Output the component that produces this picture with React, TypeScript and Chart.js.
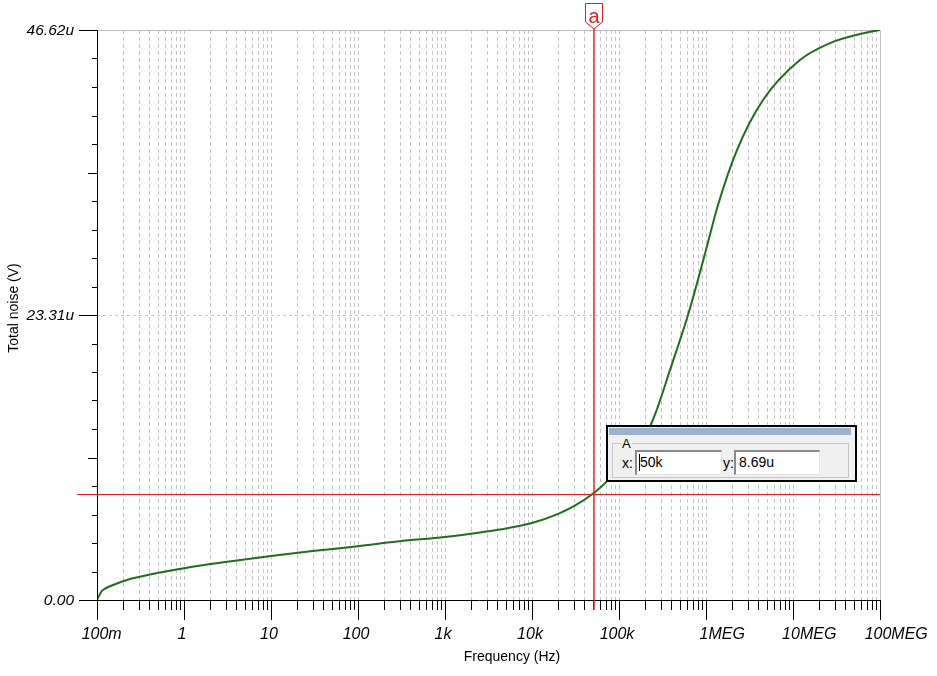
import React, { useEffect, useRef } from 'react';
import { Chart, registerables } from 'chart.js';

Chart.register(...registerables);

// ---- data (frequency in Hz, total noise in microvolts) ----
const freqHz = [0.1, 0.11, 0.117, 0.153, 0.221, 0.49, 1, 3, 10, 30, 100, 300, 1000, 3000, 5000, 10000, 20000, 30000, 50000, 74800, 100000, 227000, 273000, 385000, 621000, 1e6, 1.374e6, 2.27e6, 4.52e6, 1.2e7, 2.66e7, 5.89e7, 1e8];
const noiseMicroV = [0, 0.6, 0.82, 1.23, 1.64, 2.2, 2.6, 3.1, 3.6, 4.0, 4.4, 4.8, 5.15, 5.6, 5.85, 6.3, 7.05, 7.65, 8.69, 9.81, 10.96, 14.2, 15.6, 18.8, 23.31, 28.63, 32.31, 36.8, 40.89, 44.16, 45.55, 46.29, 46.62];

const xTickValues = [0.1, 1, 10, 100, 1000, 10000, 100000, 1e6, 1e7, 1e8];
const xTickLabels = ['100m', '1', '10', '100', '1k', '10k', '100k', '1MEG', '10MEG', '100MEG'];
const yTickValues = [0, 23.31, 46.62];
const yTickLabels = ['0.00', '23.31u', '46.62u'];
const yMinorCount = 20; // minor ticks between 0 and max

const xTitle = 'Frequency (Hz)';
const yTitle = 'Total noise (V)';

const cursorName = 'a';
const cursorGroup = 'A';
const cursorX = 50000;
const cursorY = 8.69;
const cursorXText = '50k';
const cursorYText = '8.69u';

const FONT = '"Liberation Sans", Arial, sans-serif';
const RED = '#e02020';

const decorPlugin = {
  id: 'tinaDecor',
  beforeDatasetsDraw(chart: any) {
    const { ctx, chartArea: a, scales } = chart;
    const x = scales.x;
    const y = scales.y;
    ctx.save();
    ctx.strokeStyle = '#c6c6c6';
    ctx.lineWidth = 1;
    ctx.setLineDash([4, 3]);
    const xmin = xTickValues[0];
    const xmax = xTickValues[xTickValues.length - 1];
    for (let e = -1; e < 8; e++) {
      for (let m = 1; m < 10; m++) {
        const v = m * Math.pow(10, e);
        if (v <= xmin * 1.0001 || v >= xmax * 0.9999) continue;
        const px = Math.round(x.getPixelForValue(v)) + 0.5;
        ctx.beginPath();
        ctx.moveTo(px, a.top);
        ctx.lineTo(px, a.bottom);
        ctx.stroke();
      }
    }
    ctx.setLineDash([3, 3]);
    const py = Math.round(y.getPixelForValue(yTickValues[1])) + 0.5;
    ctx.beginPath();
    ctx.moveTo(a.left, py);
    ctx.lineTo(a.right, py);
    ctx.stroke();
    ctx.setLineDash([]);
    ctx.strokeStyle = '#bdbdbd';
    ctx.beginPath();
    ctx.moveTo(a.left, Math.round(a.top) + 0.5);
    ctx.lineTo(Math.round(a.right) + 0.5, Math.round(a.top) + 0.5);
    ctx.lineTo(Math.round(a.right) + 0.5, a.bottom);
    ctx.stroke();
    ctx.restore();
  },
  afterDatasetsDraw(chart: any) {
    const { ctx, chartArea: a, scales } = chart;
    const x = scales.x;
    const y = scales.y;
    ctx.save();
    ctx.setLineDash([]);
    ctx.lineWidth = 1;
    const L = Math.round(a.left) + 0.5;
    const B = Math.round(a.bottom) + 0.5;

    // axes
    ctx.strokeStyle = '#000';
    ctx.beginPath();
    ctx.moveTo(L, a.top);
    ctx.lineTo(L, a.bottom + 20);
    ctx.moveTo(a.left - 18, B);
    ctx.lineTo(a.right, B);
    ctx.stroke();

    // y ticks
    const ymax = yTickValues[yTickValues.length - 1];
    for (let i = 0; i <= yMinorCount; i++) {
      const v = (ymax * i) / yMinorCount;
      const py = Math.round(y.getPixelForValue(v)) + 0.5;
      let len = 5;
      if (i % 10 === 0) len = 18;
      else if (i % 5 === 0) len = 9;
      ctx.beginPath();
      ctx.moveTo(a.left - len, py);
      ctx.lineTo(a.left, py);
      ctx.stroke();
    }
    // x ticks
    for (let e = -1; e < 8; e++) {
      for (let m = 1; m < 10; m++) {
        const v = m * Math.pow(10, e);
        const px = Math.round(x.getPixelForValue(v)) + 0.5;
        const len = m === 1 ? 20 : 10;
        ctx.beginPath();
        ctx.moveTo(px, a.bottom);
        ctx.lineTo(px, a.bottom + len);
        ctx.stroke();
      }
    }
    {
      const px = Math.round(x.getPixelForValue(1e8)) + 0.5;
      ctx.beginPath();
      ctx.moveTo(px, a.bottom);
      ctx.lineTo(px, a.bottom + 20);
      ctx.stroke();
    }

    // tick labels
    ctx.fillStyle = '#000';
    ctx.font = `italic 16px ${FONT}`;
    ctx.textBaseline = 'alphabetic';
    xTickValues.forEach((v, i) => {
      const lbl = xTickLabels[i];
      const px = x.getPixelForValue(v);
      const m = lbl.match(/^([0-9.]+)(MEG|m)$/);
      if (m) {
        const w = ctx.measureText(m[1]).width;
        ctx.textAlign = 'left';
        ctx.fillText(lbl, px - w / 2 - 2, 639);
      } else {
        ctx.textAlign = 'center';
        ctx.fillText(lbl, px - 2, 639);
      }
    });
    ctx.font = `italic 15.5px ${FONT}`;
    ctx.textAlign = 'right';
    ctx.textBaseline = 'middle';
    yTickValues.forEach((v, i) => {
      const py = y.getPixelForValue(v);
      ctx.fillText(yTickLabels[i], a.left - 23, py + 1);
    });

    // axis titles
    ctx.font = `14px ${FONT}`;
    ctx.textAlign = 'center';
    ctx.textBaseline = 'alphabetic';
    ctx.fillText(xTitle, 512, 661);
    ctx.save();
    ctx.translate(18, 308);
    ctx.rotate(-Math.PI / 2);
    ctx.fillText(yTitle, 0, 0);
    ctx.restore();

    // cursor lines (drawn last)
    const cxp = Math.round(x.getPixelForValue(cursorX));
    const cy = Math.round(y.getPixelForValue(cursorY)) + 0.5;
    ctx.strokeStyle = RED;
    ctx.lineWidth = 1;
    ctx.beginPath();
    ctx.moveTo(a.left - 20, cy);
    ctx.lineTo(a.right, cy);
    ctx.stroke();
    ctx.lineWidth = 1.4;
    ctx.beginPath();
    ctx.moveTo(cxp + 1, a.top - 2);
    ctx.lineTo(cxp + 1, a.bottom + 10);
    ctx.stroke();

    // cursor marker
    const mx = cxp + 1;
    ctx.fillStyle = '#fff';
    ctx.strokeStyle = RED;
    ctx.lineWidth = 1;
    ctx.beginPath();
    ctx.moveTo(mx - 8.5, 3.5);
    ctx.lineTo(mx + 8.5, 3.5);
    ctx.lineTo(mx + 8.5, 22);
    ctx.lineTo(mx, 29);
    ctx.lineTo(mx - 8.5, 22);
    ctx.closePath();
    ctx.fill();
    ctx.stroke();
    ctx.fillStyle = RED;
    ctx.font = `20px ${FONT}`;
    ctx.textAlign = 'center';
    ctx.textBaseline = 'alphabetic';
    ctx.fillText(cursorName, mx, 23);
    ctx.restore();
  },
};

function CursorBox() {
  const txt: React.CSSProperties = { position: 'absolute', fontFamily: FONT, fontSize: 14, lineHeight: '14px', color: '#000' };
  const input: React.CSSProperties = {
    position: 'absolute',
    top: 23,
    height: 25,
    boxSizing: 'border-box',
    background: '#fff',
    borderTop: '2px solid #8a8a8a',
    borderLeft: '2px solid #8a8a8a',
    borderBottom: '1px solid #e4e4e4',
    borderRight: '1px solid #e4e4e4',
    fontFamily: FONT,
    fontSize: 14,
    lineHeight: '21px',
    paddingLeft: 3,
    color: '#000',
  };
  return (
    <div
      style={{
        position: 'absolute',
        left: 606,
        top: 425,
        width: 251,
        height: 57,
        boxSizing: 'border-box',
        border: '2px solid #000',
        background: '#f0f0f0',
      }}
    >
      <div style={{ position: 'absolute', left: 1, top: 1, width: 242, height: 7, background: '#9cb1cc' }} />
      <div
        style={{
          position: 'absolute',
          left: 4,
          top: 16,
          width: 237,
          height: 35,
          boxSizing: 'border-box',
          border: '1px solid #c4c4c4',
        }}
      />
      <div style={{ ...txt, left: 13, top: 10, fontSize: 13, lineHeight: '13px', background: '#f0f0f0', padding: '0 1px' }}>{cursorGroup}</div>
      <div style={{ ...txt, left: 14, top: 29 }}>x:</div>
      <div style={{ ...input, left: 27, width: 87 }}>
        {cursorXText}
        <div style={{ position: 'absolute', left: 2, top: 2, width: 1, height: 17, background: '#000' }} />
      </div>
      <div style={{ ...txt, left: 115, top: 29 }}>y:</div>
      <div style={{ ...input, left: 126, width: 86 }}>{cursorYText}</div>
    </div>
  );
}

export default function App() {
  const ref = useRef<HTMLCanvasElement | null>(null);
  useEffect(() => {
    if (!ref.current) return;
    const chart = new Chart(ref.current, {
      type: 'scatter',
      data: {
        datasets: [
          {
            label: yTitle,
            data: freqHz.map((f, i) => ({ x: f, y: noiseMicroV[i] })),
            showLine: true,
            borderColor: '#1e6e1e',
            backgroundColor: '#1e6e1e',
            borderWidth: 2,
            pointRadius: 0,
            cubicInterpolationMode: 'monotone',
          } as any,
        ],
      },
      options: {
        animation: false,
        responsive: false,
        devicePixelRatio: 1,
        layout: { padding: { left: 97, top: 30, right: 57, bottom: 76 } },
        plugins: { legend: { display: false }, tooltip: { enabled: false } },
        scales: {
          x: { type: 'logarithmic', min: xTickValues[0], max: xTickValues[xTickValues.length - 1], display: false },
          y: { type: 'linear', min: 0, max: yTickValues[yTickValues.length - 1], display: false },
        },
      },
      plugins: [decorPlugin],
    });
    return () => chart.destroy();
  }, []);
  return (
    <div style={{ position: 'absolute', left: 0, top: 0, width: 937, height: 676, background: '#fff' }}>
      <canvas ref={ref} width={937} height={676} style={{ display: 'block' }} />
      <CursorBox />
    </div>
  );
}
